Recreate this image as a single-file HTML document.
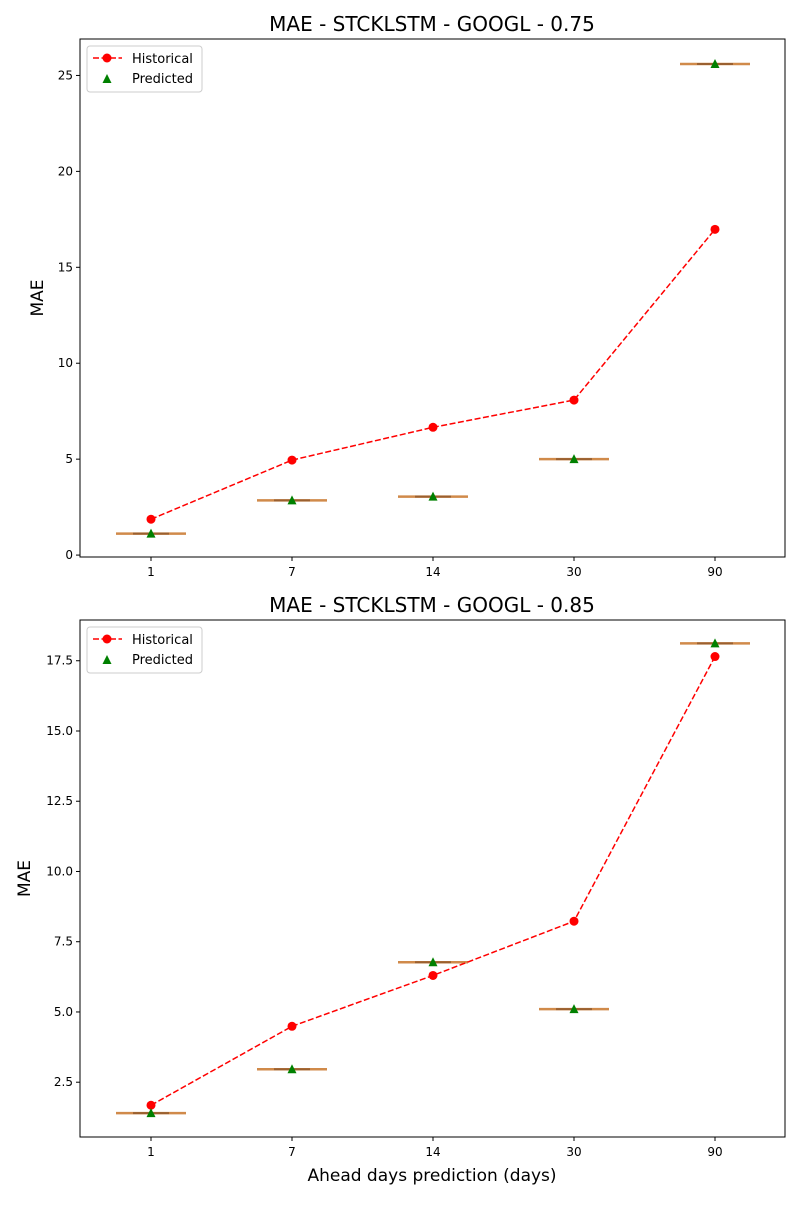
<!DOCTYPE html>
<html><head><meta charset="utf-8"><style>
body{margin:0;background:#fff;}
svg text{font-family:"DejaVu Sans","Liberation Sans",sans-serif;}
</style></head><body>
<svg id="chart" width="800" height="1200" xmlns="http://www.w3.org/2000/svg"></svg>
<script>
const categories = ["1","7","14","30","90"];
const hist1 = [1.87, 4.95, 6.66, 8.08, 16.98];
const pred1 = [1.12, 2.85, 3.05, 5.0, 25.6];
const ticks1 = [0, 5, 10, 15, 20, 25];
const tickLabels1 = ["0","5","10","15","20","25"];
const hist2 = [1.68, 4.49, 6.3, 8.23, 17.65];
const pred2 = [1.4, 2.96, 6.77, 5.1, 18.12];
const ticks2 = [2.5, 5, 7.5, 10, 12.5, 15, 17.5];
const tickLabels2 = ["2.5","5.0","7.5","10.0","12.5","15.0","17.5"];

const svg = document.getElementById('chart');
const NS = "http://www.w3.org/2000/svg";
function mk(tag, attrs, parent){const e=document.createElementNS(NS,tag);for(const k in attrs)e.setAttribute(k,attrs[k]);(parent||svg).appendChild(e);return e;}

function panel(p, title, hist, pred, ticks, tickLabels, y0, y1, v0, v1, xlabel, ylx){
  const L=80,R=785;
  const g=mk('g',{});
  
  
  const xs=i=>L+71+i*141;
  const ys=v=>y1-(v-v0)/(v1-v0)*(y1-y0);
  const t=mk('text',{x:432,y:y0-8,'text-anchor':'middle','font-size':20},g);t.textContent=title;
  
  
  ticks.forEach((v,i)=>{
    const y=ys(v);
    mk('line',{x1:L-4,x2:L,y1:y,y2:y,stroke:'#000'},g);
    const tx=mk('text',{x:L-7,y:y+4,'text-anchor':'end','font-size':12},g);tx.textContent=tickLabels[i];
    
    
  });
  categories.forEach((c,i)=>{
    const x=xs(i);
    mk('line',{x1:x,x2:x,y1:y1,y2:y1+4,stroke:'#000'},g);
    const tx=mk('text',{x:x,y:y1+19,'text-anchor':'middle','font-size':12},g);tx.textContent=c;
    
    
    const yb=ys(pred[i]);
    const b=mk('line',{x1:x-35,x2:x+35,y1:yb,y2:yb,stroke:'#d08a4a','stroke-width':2.5},g);
    
    
    mk('line',{x1:x-18,x2:x+18,y1:yb,y2:yb,stroke:'#9a6030','stroke-width':2},g);
  });
  const yl=mk('text',{x:0,y:0,'text-anchor':'middle','font-size':17,transform:`translate(${ylx},${(y0+y1)/2}) rotate(-90)`},g);yl.textContent='MAE';
  
  
  const pts=hist.map((v,i)=>xs(i)+','+ys(v)).join(' ');
  const pl=mk('polyline',{points:pts,fill:'none',stroke:'#ff0000','stroke-width':1.5,'stroke-dasharray':'6,2.5'},g);
  
  
  hist.forEach((v,i)=>{
    const c=mk('circle',{cx:xs(i),cy:ys(v),r:4.5,fill:'#ff0000'},g);
    
    
  });
  pred.forEach((v,i)=>{
    const x=xs(i),y=ys(v);
    const tr=mk('polygon',{points:`${x},${y-5} ${x-4.5},${y+4} ${x+4.5},${y+4}`,fill:'#008000'},g);
    
    
  });
  mk('rect',{x:L,y:y0,width:R-L,height:y1-y0,fill:'none',stroke:'#000','stroke-width':1},g);
  const lg=mk('g',{},g);
  
  
  mk('rect',{x:87,y:y0+7,width:115,height:46,rx:3,fill:'#fff',stroke:'#ccc'},lg);
  mk('line',{x1:93,x2:122,y1:y0+19,y2:y0+19,stroke:'#ff0000','stroke-width':1.5,'stroke-dasharray':'6,2.5'},lg);
  mk('circle',{cx:107,cy:y0+19,r:4.5,fill:'#ff0000'},lg);
  const t1=mk('text',{x:132,y:y0+24,'font-size':13},lg);t1.textContent='Historical';
  mk('polygon',{points:`107,${y0+35} 102.5,${y0+44} 111.5,${y0+44}`,fill:'#008000'},lg);
  const t2=mk('text',{x:132,y:y0+44,'font-size':13},lg);t2.textContent='Predicted';
  if(xlabel){const xl=mk('text',{x:432,y:y1+44,'text-anchor':'middle','font-size':17},g);xl.textContent=xlabel;
    
    }
}
panel(1,'MAE - STCKLSTM - GOOGL - 0.75',hist1,pred1,ticks1,tickLabels1,39,557,-0.1,26.9,null,43);
panel(2,'MAE - STCKLSTM - GOOGL - 0.85',hist2,pred2,ticks2,tickLabels2,620,1137,0.55,18.95,'Ahead days prediction (days)',30);
</script>
</body></html>
